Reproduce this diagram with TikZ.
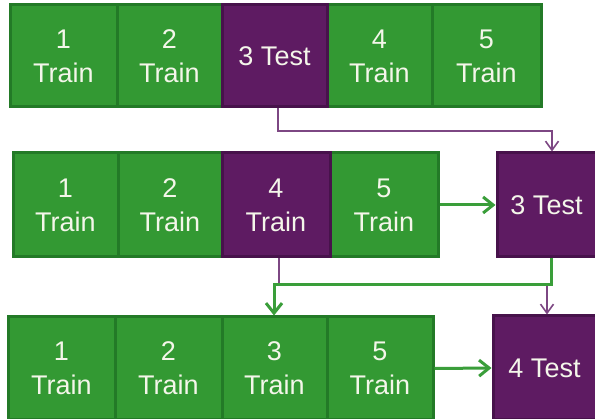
\documentclass[tikz,border=0pt]{standalone}
\usepackage{fontspec}
\setmainfont{Liberation Sans}
\usetikzlibrary{arrows.meta}
\definecolor{gfill}{HTML}{339933}
\definecolor{gedge}{HTML}{237A27}
\definecolor{pfill}{HTML}{5E1B62}
\definecolor{pedge}{HTML}{47124B}
\definecolor{pline}{HTML}{7D4783}
\definecolor{gline}{HTML}{3A9E3A}
\definecolor{tcol}{HTML}{F4F6EA}
\tikzset{
  cellbase/.style={rectangle, line width=3pt, text=tcol, align=center,
    inner sep=0pt, font=\fontsize{27}{34}\selectfont},
  gcell/.style={cellbase, fill=gfill, draw=gedge},
  pcell/.style={cellbase, fill=pfill, draw=pedge},
  garrow/.style={draw=gline, line width=3pt, -{Straight Barb[length=10pt,width=16pt]}},
  parrow/.style={draw=pline, line width=1.6pt, -{Straight Barb[length=9pt,width=13pt]}},
}
\begin{document}
\begin{tikzpicture}[x=1pt,y=-1pt]
\useasboundingbox (0,0) rectangle (595,419);
% Row 1
\node[gcell, minimum width=107pt, minimum height=102pt] (r1c1) at (63.5,56) {1\\Train};
\node[gcell, minimum width=105pt, minimum height=102pt] (r1c2) at (169.5,56) {2\\Train};
\node[gcell, minimum width=105pt, minimum height=102pt] (r1c4) at (379.5,56) {4\\Train};
\node[gcell, minimum width=109pt, minimum height=102pt] (r1c5) at (486.5,56) {5\\Train};
\node[pcell, minimum width=105pt, minimum height=102pt] (r1c3) at (274.5,56) {3 Test};
% Row 2
\node[gcell, minimum width=105pt, minimum height=104pt] (r2c1) at (65.5,205) {1\\Train};
\node[gcell, minimum width=104pt, minimum height=104pt] (r2c2) at (170,205) {2\\Train};
\node[gcell, minimum width=108pt, minimum height=104pt] (r2c4) at (384,205) {5\\Train};
\node[pcell, minimum width=108pt, minimum height=104pt] (r2c3) at (276,205) {4\\Train};
\node[pcell, minimum width=99pt, minimum height=104pt] (t2) at (546.5,205) {3 Test};
% Row 3
\node[gcell, minimum width=107pt, minimum height=103pt] (r3c1) at (61.5,368.5) {1\\Train};
\node[gcell, minimum width=107pt, minimum height=103pt] (r3c2) at (168.5,368.5) {2\\Train};
\node[gcell, minimum width=105pt, minimum height=103pt] (r3c3) at (274.5,368.5) {3\\Train};
\node[gcell, minimum width=106pt, minimum height=103pt] (r3c4) at (380,368.5) {5\\Train};
\node[pcell, minimum width=103pt, minimum height=104pt] (t3) at (544.5,368) {4 Test};
% junction levels
\coordinate (lev1) at (0,131);
\coordinate (lev2) at (0,285);
% arrows
\draw[parrow] ([xshift=3.5pt]r1c3.south) -- ([xshift=3.5pt]r1c3.south |- lev1) -| ([xshift=5.5pt]t2.north);
\draw[garrow] (r2c4.east) -- (t2.west);
\draw[parrow] ([xshift=3pt]r2c3.south) -- ([xshift=3pt]r2c3.south |- lev2) -| ([xshift=2.5pt]t3.north);
\draw[garrow] ([xshift=4.5pt]t2.south) -- ([xshift=4.5pt]t2.south |- lev2) -| ([xshift=-0.5pt]r3c3.north);
\draw[garrow] (r3c4.east) -- (t3.west);
\end{tikzpicture}
\end{document}
